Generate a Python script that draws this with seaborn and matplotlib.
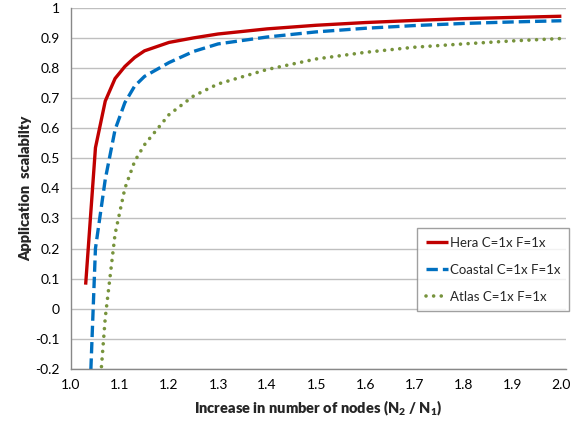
import matplotlib
matplotlib.use("Agg")
import matplotlib.pyplot as plt
import seaborn as sns
import pandas as pd

x_vals = [1.03, 1.05, 1.07, 1.09, 1.11, 1.13, 1.15, 1.2, 1.25, 1.3, 1.4, 1.5, 1.6, 1.7, 1.8, 1.9, 2.0]
hera = [0.08, 0.535, 0.69, 0.765, 0.805, 0.835, 0.857, 0.885, 0.90, 0.913, 0.93, 0.942, 0.951, 0.958, 0.964, 0.968, 0.972]
coastal = [-0.66, 0.20, 0.43, 0.595, 0.685, 0.74, 0.772, 0.818, 0.855, 0.88, 0.903, 0.92, 0.932, 0.941, 0.948, 0.953, 0.957]
atlas = [-1.3, -0.45, -0.03, 0.248, 0.40, 0.49, 0.545, 0.645, 0.707, 0.747, 0.795, 0.83, 0.852, 0.869, 0.880, 0.890, 0.898]
series_names = ["Hera C=1x F=1x", "Coastal C=1x F=1x", "Atlas C=1x F=1x"]
x_ticks = [1.0, 1.1, 1.2, 1.3, 1.4, 1.5, 1.6, 1.7, 1.8, 1.9, 2.0]
y_ticks = [-0.2, -0.1, 0, 0.1, 0.2, 0.3, 0.4, 0.5, 0.6, 0.7, 0.8, 0.9, 1]
x_label = "Increase in number of nodes (N$_2$ / N$_1$)"
y_label = "Application  scalabilty"

sns.set_theme(style="white")
plt.rcParams["font.family"] = ["Lato", "DejaVu Sans"]
plt.rcParams["mathtext.fontset"] = "custom"
plt.rcParams["mathtext.rm"] = "Lato:heavy"
plt.rcParams["mathtext.it"] = "Lato:heavy"
plt.rcParams["mathtext.bf"] = "Lato:heavy"

fig = plt.figure(figsize=(5.72, 4.34), dpi=100)
ax = fig.add_axes([0.124, 0.150, 0.866, 0.832])

colors = ["#C00000", "#0070C0", "#77933C"]
frames = []
for name, vals in zip(series_names, [hera, coastal, atlas]):
    frames.append(pd.DataFrame({"x": x_vals, "y": vals, "series": name}))
df = pd.concat(frames, ignore_index=True)

styles = [dict(lw=2.4, ls="-"), dict(lw=2.4, dashes=(3.4, 1.5)), dict(lw=2.6, dashes=(0.01, 2.1))]
for name, c, st in zip(series_names, colors, styles):
    sub = df[df["series"] == name]
    line_ax = sns.lineplot(data=sub, x="x", y="y", color=c, linewidth=st["lw"], label=name, ax=ax)
    ln = line_ax.get_lines()[-1]
    if "dashes" in st:
        ln.set_dashes(st["dashes"])
    if name.startswith("Atlas"):
        ln.set_dash_capstyle("round")
    else:
        ln.set_dash_capstyle("butt")
    ln.set_solid_capstyle("butt")

ax.set_xlim(1.0, 2.01)
ax.set_ylim(-0.2, 1.0)
ax.set_xticks(x_ticks)
ax.set_xticklabels([f"{v:.1f}" for v in x_ticks])
ax.set_yticks(y_ticks)
ax.set_yticklabels([("%g" % v) for v in y_ticks])
ax.yaxis.grid(True, color="#BFBFBF", linewidth=1.0)
ax.xaxis.grid(False)
for s in ["top", "right"]:
    ax.spines[s].set_visible(False)
for s in ["left", "bottom"]:
    ax.spines[s].set_color("#888888")
    ax.spines[s].set_linewidth(1.0)
ax.tick_params(axis="both", which="both", labelsize=10, colors="#888888", labelcolor="black",
               length=4, width=1.0, direction="out")
ax.tick_params(axis="x", pad=3)
ax.tick_params(axis="y", pad=4)
ax.set_xlabel(x_label, fontsize=10.5, fontweight="heavy", labelpad=6)
ax.set_ylabel(y_label, fontsize=10.5, fontweight="heavy", labelpad=2)

leg = ax.legend(loc="upper left", bbox_to_anchor=(417 / 572, 1 - 228 / 434), bbox_transform=fig.transFigure,
                frameon=True, fontsize=9.5, handlelength=1.7, handletextpad=0.15,
                labelspacing=1.15, borderpad=0.65, borderaxespad=0.0, fancybox=False)
leg.get_frame().set_edgecolor("#888888")
leg.get_frame().set_linewidth(1.0)

fig.savefig("out.png", dpi=100)
